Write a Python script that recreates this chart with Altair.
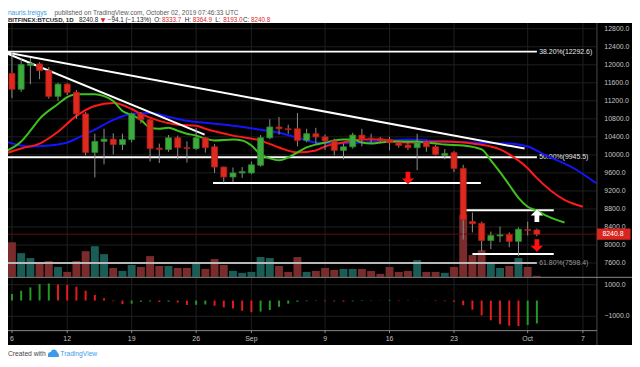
import altair as alt
import pandas as pd

# ---------------- data ----------------
dates = [d.strftime("%Y-%m-%d") for d in pd.date_range("2019-08-05", "2019-10-02", freq="D")]

opens = [10976, 11808, 11458, 11984, 12020, 11870, 11300, 11570, 11390, 10910,
         10055, 10300, 10350, 10230, 10340, 10910, 10780, 10150, 10120, 10380,
         10160, 10140, 10380, 10180, 9730, 9510, 9600,
         9600, 9770, 10380, 10620, 10580, 10580, 10320, 10470, 10400, 10310,
         10100, 10180, 10440, 10370, 10360, 10340, 10270, 10220, 10160, 10290,
         10180, 9990, 10050, 9700, 8520, 8480, 8100, 8200, 8230, 8080,
         8345, 8333.7]
highs = [11900, 12290, 12150, 12150, 12060, 11950, 11600, 11590, 11440, 10950,
         10470, 10580, 10480, 10470, 10940, 10950, 10800, 10250, 10440, 10430,
         10300, 10600, 10400, 10240, 9740, 9720, 9730,
         9850, 10440, 10790, 10840, 10670, 10930, 10580, 10600, 10450, 10360,
         10250, 10490, 10580, 10470, 10400, 10400, 10300, 10290, 10470, 10320,
         10220, 10130, 10080, 9780, 8720, 8520, 8300, 8410, 8280, 8390,
         8520, 8364.9]
lows = [10950, 11260, 11400, 11570, 11680, 11250, 11200, 11330, 10800, 9990,
        9500, 9790, 10010, 10110, 10280, 10700, 9850, 9820, 10070, 9900,
        9830, 10110, 10050, 9600, 9380, 9390, 9490,
        9570, 9740, 10350, 10450, 10470, 10190, 10280, 10250, 10110, 9990,
        9900, 10140, 10190, 10270, 10260, 10100, 10160, 10110, 9660, 10070,
        9990, 9900, 9620, 8120, 8280, 7860, 7910, 8060, 7950, 7750,
        8210, 8193.0]
closes = [11808, 11458, 12005, 12027, 11870, 11300, 11570, 11390, 10910, 10055,
          10300, 10350, 10230, 10340, 10910, 10780, 10140, 10120, 10380, 10160,
          10140, 10380, 10160, 9730, 9510, 9600, 9630,
          9780, 10380, 10620, 10580, 10560, 10320, 10470, 10400, 10310, 10100,
          10180, 10440, 10350, 10350, 10310, 10270, 10210, 10160, 10270, 10180,
          10010, 10030, 9700, 8560, 8470, 8100, 8210, 8225, 8080, 8350,
          8325, 8240.8]
volumes = [29, 35, 24, 19, 15, 16, 10, 5, 16, 26, 31, 23, 9, 6, 12, 10, 21, 11, 11, 9,
           9, 15, 8, 18, 12, 6, 4,
           5, 20, 19, 11, 5, 20, 5, 6, 9, 7, 8, 8, 8, 6, 3, 10, 5, 6, 17, 5, 5, 4, 10,
           63, 22, 27, 13, 9, 11, 19,
           10, 1]

# Awesome oscillator (Aug 6 .. Oct 2)
ao_values = [416, 624, 832, 1040, 1080, 1010, 990, 875, 624, 354, 146, -40, -230, -200,
             -80, -60, -90, -70, -120, -280, -270, -250, -330, -430, -500, -650,
             -740, -700, -600, -400, -200, -80, -40, -20, -40, -50, -70, -50, -30, -20,
             10, 40, 30, 20, 10, -10, -30, -40, -80, -300, -580, -940, -1250, -1500,
             -1600, -1620, -1550, -1450]
ao_colors = ["g", "g", "g", "g", "g", "r", "r", "r", "r", "r", "r", "r", "r", "g",
             "g", "g", "r", "g", "r", "r", "g", "g", "r", "r", "r", "r",
             "r", "g", "g", "g", "g", "g", "g", "g", "r", "r", "r", "g", "g", "g",
             "g", "g", "r", "r", "r", "r", "r", "r", "r", "r", "r", "r", "r", "r",
             "r", "r", "g", "g"]

jaw_dates = ["2019-08-05", "2019-08-08", "2019-08-10", "2019-08-12", "2019-08-13",
             "2019-08-15", "2019-08-17", "2019-08-19", "2019-08-21", "2019-08-23",
             "2019-08-25", "2019-08-27", "2019-08-30", "2019-09-02", "2019-09-04",
             "2019-09-06", "2019-09-08", "2019-09-10", "2019-09-13", "2019-09-16",
             "2019-09-18", "2019-09-22", "2019-09-25", "2019-09-29", "2019-09-30",
             "2019-10-01", "2019-10-03", "2019-10-06", "2019-10-08T11:00:00Z"]
jaw_values = [10318, 10187, 10208, 10274, 10362, 10559, 10778, 10910, 10932, 10844,
              10756, 10712, 10647, 10559, 10493, 10384, 10274, 10252, 10274, 10318,
              10340, 10296, 10274, 10252, 10230, 10187, 9989, 9704, 9370]

teeth_dates = ["2019-08-05", "2019-08-07", "2019-08-09", "2019-08-11", "2019-08-13",
               "2019-08-15", "2019-08-17", "2019-08-19", "2019-08-20", "2019-08-22",
               "2019-08-24", "2019-08-26", "2019-08-27", "2019-08-30", "2019-09-02",
               "2019-09-04", "2019-09-06", "2019-09-08", "2019-09-09", "2019-09-11",
               "2019-09-13", "2019-09-15", "2019-09-18", "2019-09-22", "2019-09-25",
               "2019-09-27", "2019-09-28", "2019-09-29", "2019-10-01", "2019-10-02",
               "2019-10-05", "2019-10-07"]
teeth_values = [10011, 10143, 10252, 10515, 10866, 11085, 11151, 11019, 10910, 10756,
                10669, 10647, 10581, 10428, 10318, 10165, 10055, 10099, 10187, 10274,
                10340, 10340, 10274, 10296, 10252, 10187, 10121, 10011, 9704, 9485,
                9003, 8850]

lips_dates = ["2019-08-05", "2019-08-07", "2019-08-08", "2019-08-09", "2019-08-11",
              "2019-08-12", "2019-08-13", "2019-08-15", "2019-08-16", "2019-08-17",
              "2019-08-18", "2019-08-19", "2019-08-20", "2019-08-21", "2019-08-22",
              "2019-08-23", "2019-08-24", "2019-08-25", "2019-08-26", "2019-08-27",
              "2019-08-28", "2019-08-30", "2019-08-31", "2019-09-01", "2019-09-02",
              "2019-09-03", "2019-09-04", "2019-09-05", "2019-09-06", "2019-09-07",
              "2019-09-08", "2019-09-09", "2019-09-10", "2019-09-11", "2019-09-12",
              "2019-09-13", "2019-09-14", "2019-09-15", "2019-09-17", "2019-09-19",
              "2019-09-20", "2019-09-21", "2019-09-22", "2019-09-24", "2019-09-26",
              "2019-09-27", "2019-09-28", "2019-09-29", "2019-09-30", "2019-10-01",
              "2019-10-02", "2019-10-03", "2019-10-05"]
lips_values = [10055, 10296, 10537, 10800, 11129, 11282, 11348, 11348, 11304, 11195,
               10976, 10888, 10778, 10603, 10581, 10603, 10537, 10471, 10428, 10362,
               10318, 10340, 10318, 10208, 10011, 9923, 9880, 9946, 10055, 10165,
               10230, 10274, 10318, 10340, 10340, 10274, 10252, 10274, 10296, 10296,
               10274, 10252, 10230, 10208, 10121, 9880, 9617, 9332, 9047, 8850,
               8762, 8652, 8499]

price_ticks = [12800, 12400, 12000, 11600, 11200, 10800, 10400, 10000, 9600, 9200,
               8800, 8400, 8000, 7600]
price_labels = ["12800.0", "12400.0", "12000.0", "11600.0", "11200.0", "10800.0",
                "10400.0", "10000.0", "9600.0", "9200.0", "8800.0", "8400.0",
                "8000.0", "7600.0"]
osc_ticks = [1000, -1000]
osc_labels = ["1000.0", "\u22121000.0"]
x_tick_dates = ["2019-08-06", "2019-08-12", "2019-08-19", "2019-08-26", "2019-09-01",
                "2019-09-09", "2019-09-16", "2019-09-23", "2019-10-01", "2019-10-07"]
x_tick_labels = ["6", "12", "19", "26", "Sep", "9", "16", "23", "Oct", "7"]

fib_levels = [12292.6, 9945.5, 7598.4]
fib_names = ["38.20%(12292.6)", "50.00%(9945.5)", "61.80%(7598.4)"]
fib_from = "2019-08-05"
fib_to = "2019-10-02"

trend_from_dates = ["2019-08-05", "2019-08-05"]
trend_from_prices = [12290, 12290]
trend_to_dates = ["2019-09-30T16:00:00Z", "2019-08-26T22:00:00Z"]
trend_to_prices = [10140, 10450]

level_from_dates = ["2019-08-27T20:00:00Z", "2019-09-24T07:00:00Z", "2019-09-25T00:00:00Z"]
level_to_dates = ["2019-09-25T22:00:00Z", "2019-10-03T20:00:00Z", "2019-10-03T20:00:00Z"]
level_prices = [9376, 8773, 7798]

down_arrow_dates = ["2019-09-18", "2019-10-02"]
down_arrow_prices = [9485, 7990]
up_arrow_dates = ["2019-10-02"]
up_arrow_prices = [8650]

last_price = 8240.8

# ---------------- chart ----------------
W, H = 632, 356
FONT = "Liberation Sans"

X = alt.Scale(type="utc",
              domain=[alt.DateTime(year=2019, month=8, date=6, utc=True),
                      alt.DateTime(year=2019, month=10, date=7, utc=True)],
              range=[4, 582.3], padding=0)
YP = alt.Scale(domain=[7600, 12400], range=[256, 37], zero=False, nice=False, padding=0)
YV = alt.Scale(domain=[0, 63], range=[270, 207], zero=False, nice=False, padding=0)
YO = alt.Scale(domain=[-1000, 1000], range=[310, 278], zero=False, nice=False, padding=0)


def xd(field="date"):
    return alt.X(f"{field}:T", scale=X, axis=None)


def yp(field="price"):
    return alt.Y(f"{field}:Q", scale=YP, axis=None)


one = alt.Data(values=[{"a": 1}])

cdf = pd.DataFrame({"date": dates, "open": opens, "high": highs, "low": lows,
                    "close": closes, "volume": volumes})
cdf["dir"] = ["up" if c >= o else "down" for o, c in zip(opens, closes)]
adf = pd.DataFrame({"date": dates[1:], "ao": ao_values, "c": ao_colors})
gdf = pd.DataFrame({"price": price_ticks, "label": price_labels})
odf = pd.DataFrame({"ao": osc_ticks, "label": osc_labels})
xdf = pd.DataFrame({"date": x_tick_dates, "label": x_tick_labels})
fdf = pd.DataFrame({"price": fib_levels, "name": fib_names,
                    "date": [fib_from] * 3, "date2": [fib_to] * 3})
tdf = pd.DataFrame({"date": trend_from_dates, "price": trend_from_prices,
                    "date2": trend_to_dates, "price2": trend_to_prices})
ldf = pd.DataFrame({"date": level_from_dates, "date2": level_to_dates, "price": level_prices})
ddf = pd.DataFrame({"date": down_arrow_dates, "price": down_arrow_prices})
udf = pd.DataFrame({"date": up_arrow_dates, "price": up_arrow_prices})
pdf = pd.DataFrame({"price": [last_price]})

layers = []

layers.append(alt.Chart(one).mark_rect(color="#000000").encode(
    x=alt.value(0), x2=alt.value(W), y=alt.value(13), y2=alt.value(339)))

# grids
layers.append(alt.Chart(gdf).mark_rule(color="#202020", strokeWidth=1).encode(
    y=yp(), x=alt.value(0), x2=alt.value(596)))
layers.append(alt.Chart(odf).mark_rule(color="#202020", strokeWidth=1).encode(
    y=alt.Y("ao:Q", scale=YO, axis=None), x=alt.value(0), x2=alt.value(596)))
layers.append(alt.Chart(xdf).mark_rule(color="#202020", strokeWidth=1).encode(
    x=xd(), y=alt.value(13), y2=alt.value(324)))

# volume
layers.append(alt.Chart(cdf).mark_bar(size=8).encode(
    x=xd(), y=alt.Y("volume:Q", scale=YV, axis=None), y2=alt.value(270),
    color=alt.condition("datum.dir == 'up'", alt.value("#1a5d56"), alt.value("#7a2b2b"))))

# last price line
layers.append(alt.Chart(pdf).mark_rule(color="#5e0c0c", strokeWidth=1).encode(
    y=yp(), x=alt.value(0), x2=alt.value(596)))

# fib levels
layers.append(alt.Chart(fdf).mark_rule(strokeWidth=2).encode(
    x=xd(), x2="date2:T", y=yp(),
    color=alt.condition("datum.price < 8000", alt.value("#b8b8b8"), alt.value("#ffffff"))))
layers.append(alt.Chart(fdf).mark_text(align="left", baseline="middle", fontSize=7, font=FONT).encode(
    x=alt.value(538), y=yp(), text="name:N",
    color=alt.condition("datum.price < 8000", alt.value("#9a9a9a"), alt.value("#e6e6e6"))))

# horizontal levels
layers.append(alt.Chart(ldf).mark_rule(color="#ffffff", strokeWidth=2).encode(
    x=xd(), x2="date2:T", y=yp()))

# alligator lines
for ds, vs, col in [(jaw_dates, jaw_values, "#1414ff"),
                    (teeth_dates, teeth_values, "#ff1a1a"),
                    (lips_dates, lips_values, "#3ec21e")]:
    mdf = pd.DataFrame({"date": ds, "price": vs})
    layers.append(alt.Chart(mdf).mark_line(color=col, strokeWidth=2, interpolate="monotone").encode(
        x=xd(), y=yp()))

# trend lines
layers.append(alt.Chart(tdf).mark_rule(color="#ffffff", strokeWidth=2).encode(
    x=xd(), x2="date2:T", y=yp(), y2="price2:Q"))

# candles
layers.append(alt.Chart(cdf).mark_rule(color="#8e8e8e", strokeWidth=1).encode(
    x=xd(), y=alt.Y("low:Q", scale=YP, axis=None), y2="high:Q"))
up_col, dn_col = "#3daa3d", "#dc2a1f"
layers.append(alt.Chart(cdf).mark_bar(size=6, strokeWidth=0.8).encode(
    x=xd(), y=alt.Y("open:Q", scale=YP, axis=None), y2="close:Q",
    fill=alt.condition("datum.dir == 'up'", alt.value(up_col), alt.value(dn_col)),
    stroke=alt.condition("datum.dir == 'up'", alt.value("#2e8a2e"), alt.value("#b51d15"))))

# awesome oscillator
layers.append(alt.Chart(adf).mark_rule(strokeWidth=2).encode(
    x=xd(), y=alt.Y("ao:Q", scale=YO, axis=None), y2=alt.datum(0),
    color=alt.condition("datum.c == 'g'", alt.value("#239a23"), alt.value("#e81b1b"))))

# arrows
down_path = "M-0.38,-1 L0.38,-1 L0.38,0.05 L1,0.05 L0,1 L-1,0.05 L-0.38,0.05 Z"
up_path = "M-0.38,1 L0.38,1 L0.38,-0.05 L1,-0.05 L0,-1 L-1,-0.05 L-0.38,-0.05 Z"
layers.append(alt.Chart(ddf).mark_point(shape=down_path, filled=True, size=160, opacity=1,
                                        color="#ff1010", strokeWidth=0).encode(x=xd(), y=yp()))
layers.append(alt.Chart(udf).mark_point(shape=up_path, filled=True, size=160, opacity=1,
                                        color="#ffffff", strokeWidth=0).encode(x=xd(), y=yp()))

# separators
layers.append(alt.Chart(one).mark_rule(color="#4a4a4a").encode(
    x=alt.value(596.5), y=alt.value(13), y2=alt.value(339)))
layers.append(alt.Chart(one).mark_rule(color="#8a8a8a").encode(
    x=alt.value(0), x2=alt.value(W), y=alt.value(270.5)))
layers.append(alt.Chart(one).mark_rule(color="#8a8a8a").encode(
    x=alt.value(0), x2=alt.value(596.5), y=alt.value(324.5)))

# price axis labels
layers.append(alt.Chart(gdf).mark_text(align="left", baseline="middle", fontSize=7, font=FONT,
                                       color="#c4c4c4").encode(
    x=alt.value(604), y=yp(), text="label:N"))
layers.append(alt.Chart(odf).mark_text(align="left", baseline="middle", fontSize=7, font=FONT,
                                       color="#c4c4c4").encode(
    x=alt.value(604), y=alt.Y("ao:Q", scale=YO, axis=None), text="label:N"))

# last price box
box_path = "M-1,-0.33 L1,-0.33 L1,0.33 L-1,0.33 Z"
layers.append(alt.Chart(pdf).mark_point(shape=box_path, filled=True, size=1156, opacity=1,
                                        color="#d8261e", strokeWidth=0).encode(
    x=alt.value(613.5), y=yp()))
layers.append(alt.Chart(pdf).mark_text(align="left", baseline="middle", fontSize=7, font=FONT,
                                       color="#ffffff").encode(
    x=alt.value(602), y=yp(), text=alt.Text("price:Q", format=".1f")))

# x axis ticks + labels
layers.append(alt.Chart(xdf).mark_rule(color="#8a8a8a").encode(
    x=xd(), y=alt.value(324), y2=alt.value(327)))
layers.append(alt.Chart(xdf).mark_text(align="center", baseline="middle", fontSize=7, font=FONT,
                                       color="#c4c4c4").encode(
    x=xd(), y=alt.value(333), text="label:N"))


def label(txt, x, y, color, size=6.6, weight="normal", font=FONT):
    return alt.Chart(one).mark_text(text=txt, align="left", baseline="middle", fontSize=size,
                                    font=font, fontWeight=weight, color=color).encode(
        x=alt.value(x), y=alt.value(y))


# header
layers.append(label("nauris.treigys", 0, 3, "#3a9be6"))
layers.append(label("published on TradingView.com, October 02, 2019 07:46:33 UTC", 47, 3, "#5a5a5a"))
layers.append(label("BITFINEX:BTCUSD, 1D", 0, 9.5, "#222222", size=6.1, weight="bold"))
layers.append(label("8240.8", 72, 9.5, "#222222", size=6.4))
layers.append(label("\u25bc", 94, 9.5, "#d8261e", size=6.0, font="DejaVu Sans"))
layers.append(label("\u221294.1 (\u22121.13%)", 101, 9.5, "#222222", size=6.4))
for t, v, xl in [("O:", "8333.7", 148), ("H:", "8364.9", 179), ("L:", "8193.0", 210), ("C:", "8240.8", 238)]:
    layers.append(label(t, xl, 9.5, "#222222", size=6.4))
    layers.append(label(v, xl + 8, 9.5, "#d8261e", size=6.4))

# footer
layers.append(label("Created with", 0, 348, "#444444", size=6.8))
logo_path = ("M-1,0.6 L-1,0.15 Q-1,-0.35 -0.5,-0.35 Q-0.3,-0.85 0.2,-0.8 Q0.65,-0.7 0.7,-0.3 "
             "Q1,-0.2 1,0.2 L1,0.6 Z")
layers.append(alt.Chart(one).mark_point(shape=logo_path, filled=True, size=120, opacity=1,
                                        color="#3d9be9", strokeWidth=0).encode(
    x=alt.value(46), y=alt.value(348)))
layers.append(label("TradingView", 53, 348, "#3d9be9", size=6.8))

chart = alt.layer(*layers).resolve_scale(y="independent").properties(
    width=W, height=H,
    autosize=alt.AutoSizeParams(type="none"),
    padding=0,
    background="white",
).configure_view(stroke=None)

chart.save("out.html", embed_options={"renderer": "svg", "actions": False})
